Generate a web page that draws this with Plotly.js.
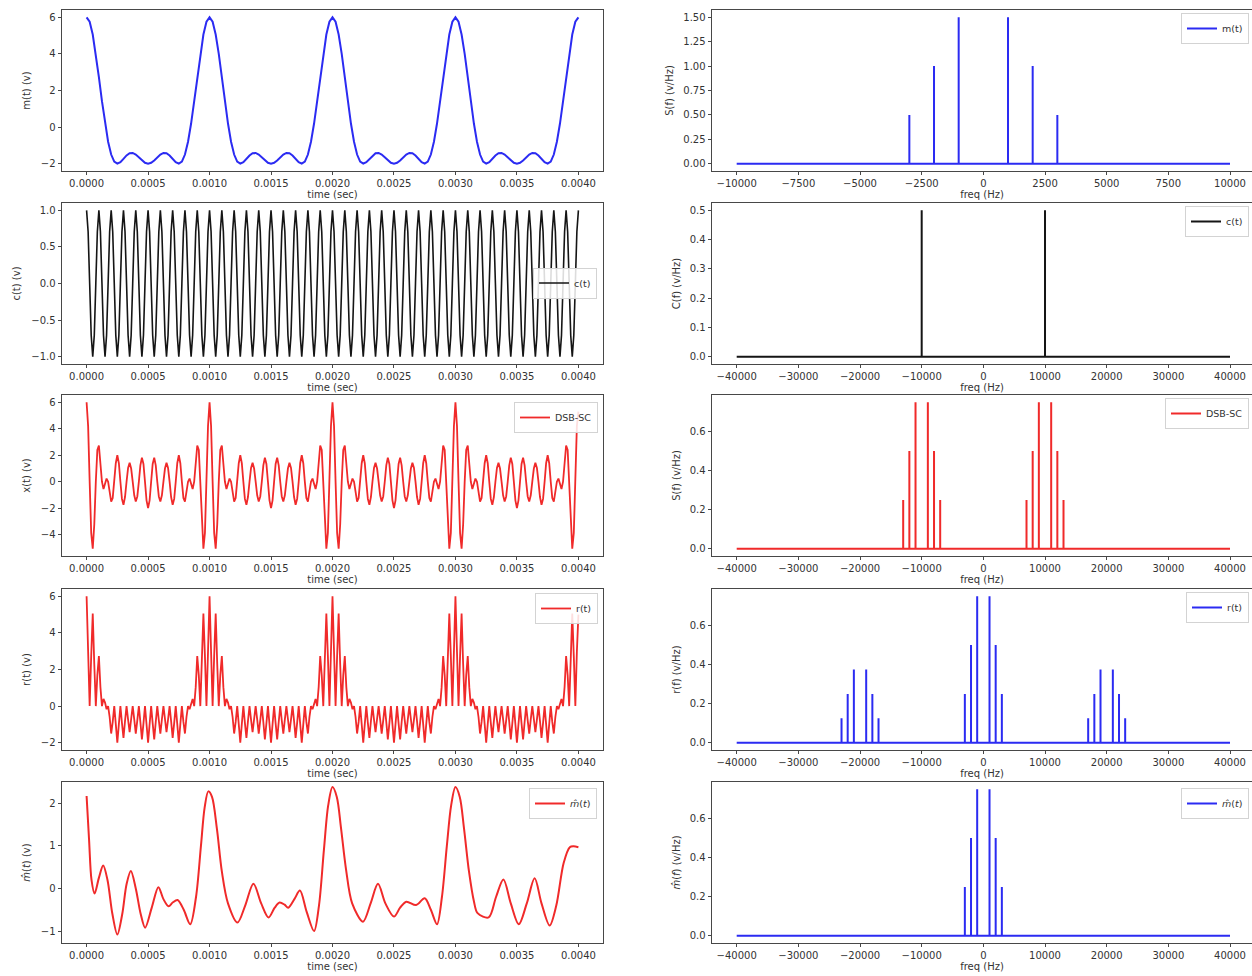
<!DOCTYPE html>
<html><head><meta charset="utf-8">
<script src="https://cdn.plot.ly/plotly-3.0.1.min.js"></script>
<style>html,body{margin:0;padding:0;background:#fff}#chart{width:1252px;height:976px}</style>
</head><body><div id="chart"></div>
<script>
// ---------------- DATA ----------------
// sampling interval of the time-domain records (s)
const mSampleStep = 0.000025;
const fineSampleStep = 0.0000125;

// message m(t), 4 periods
const mSignal = [
6,5.756,5.059,4.005,2.736,1.414,0.194,-0.801,-1.5,-1.887,-2,-1.917,-1.736,-1.55,-1.43,-1.414,-1.5,-1.654,-1.823,-1.952,-2,-1.952,-1.823,-1.654,-1.5,-1.414,-1.43,-1.55,-1.736,-1.917,-2,-1.887,-1.5,-0.801,0.194,1.414,2.736,4.005,5.059,5.756,
6,5.756,5.059,4.005,2.736,1.414,0.194,-0.801,-1.5,-1.887,-2,-1.917,-1.736,-1.55,-1.43,-1.414,-1.5,-1.654,-1.823,-1.952,-2,-1.952,-1.823,-1.654,-1.5,-1.414,-1.43,-1.55,-1.736,-1.917,-2,-1.887,-1.5,-0.801,0.194,1.414,2.736,4.005,5.059,5.756,
6,5.756,5.059,4.005,2.736,1.414,0.194,-0.801,-1.5,-1.887,-2,-1.917,-1.736,-1.55,-1.43,-1.414,-1.5,-1.654,-1.823,-1.952,-2,-1.952,-1.823,-1.654,-1.5,-1.414,-1.43,-1.55,-1.736,-1.917,-2,-1.887,-1.5,-0.801,0.194,1.414,2.736,4.005,5.059,5.756,
6,5.756,5.059,4.005,2.736,1.414,0.194,-0.801,-1.5,-1.887,-2,-1.917,-1.736,-1.55,-1.43,-1.414,-1.5,-1.654,-1.823,-1.952,-2,-1.952,-1.823,-1.654,-1.5,-1.414,-1.43,-1.55,-1.736,-1.917,-2,-1.887,-1.5,-0.801,0.194,1.414,2.736,4.005,5.059,5.756,
6];

// carrier c(t), 40 cycles
const cSignal = [
1,0.707,0,-0.707,-1,-0.707,0,0.707, 1,0.707,0,-0.707,-1,-0.707,0,0.707, 1,0.707,0,-0.707,-1,-0.707,0,0.707, 1,0.707,0,-0.707,-1,-0.707,0,0.707, 1,0.707,0,-0.707,-1,-0.707,0,0.707,
1,0.707,0,-0.707,-1,-0.707,0,0.707, 1,0.707,0,-0.707,-1,-0.707,0,0.707, 1,0.707,0,-0.707,-1,-0.707,0,0.707, 1,0.707,0,-0.707,-1,-0.707,0,0.707, 1,0.707,0,-0.707,-1,-0.707,0,0.707,
1,0.707,0,-0.707,-1,-0.707,0,0.707, 1,0.707,0,-0.707,-1,-0.707,0,0.707, 1,0.707,0,-0.707,-1,-0.707,0,0.707, 1,0.707,0,-0.707,-1,-0.707,0,0.707, 1,0.707,0,-0.707,-1,-0.707,0,0.707,
1,0.707,0,-0.707,-1,-0.707,0,0.707, 1,0.707,0,-0.707,-1,-0.707,0,0.707, 1,0.707,0,-0.707,-1,-0.707,0,0.707, 1,0.707,0,-0.707,-1,-0.707,0,0.707, 1,0.707,0,-0.707,-1,-0.707,0,0.707,
1,0.707,0,-0.707,-1,-0.707,0,0.707, 1,0.707,0,-0.707,-1,-0.707,0,0.707, 1,0.707,0,-0.707,-1,-0.707,0,0.707, 1,0.707,0,-0.707,-1,-0.707,0,0.707, 1,0.707,0,-0.707,-1,-0.707,0,0.707,
1,0.707,0,-0.707,-1,-0.707,0,0.707, 1,0.707,0,-0.707,-1,-0.707,0,0.707, 1,0.707,0,-0.707,-1,-0.707,0,0.707, 1,0.707,0,-0.707,-1,-0.707,0,0.707, 1,0.707,0,-0.707,-1,-0.707,0,0.707,
1,0.707,0,-0.707,-1,-0.707,0,0.707, 1,0.707,0,-0.707,-1,-0.707,0,0.707, 1,0.707,0,-0.707,-1,-0.707,0,0.707, 1,0.707,0,-0.707,-1,-0.707,0,0.707, 1,0.707,0,-0.707,-1,-0.707,0,0.707,
1,0.707,0,-0.707,-1,-0.707,0,0.707, 1,0.707,0,-0.707,-1,-0.707,0,0.707, 1,0.707,0,-0.707,-1,-0.707,0,0.707, 1,0.707,0,-0.707,-1,-0.707,0,0.707, 1,0.707,0,-0.707,-1,-0.707,0,0.707,
1];

// DSB-SC x(t)
const dsbSignal = [
6,4.199,0,-3.861,-5.059,-3.231,0,2.395,2.736,1.465,0,-0.554,-0.194,0.238,0,-0.841,-1.5,-1.224,0,1.396,2,1.398,0,-1.296,-1.736,-1.158,0,1.046,1.43,0.996,0,-1.022,-1.5,-1.112,0,1.23,1.823,1.341,0,-1.406,
-2,-1.406,0,1.341,1.823,1.23,0,-1.112,-1.5,-1.022,0,0.996,1.43,1.046,0,-1.158,-1.736,-1.296,0,1.398,2,1.396,0,-1.224,-1.5,-0.841,0,0.238,-0.194,-0.554,0,1.465,2.736,2.395,0,-3.231,-5.059,-3.861,0,4.199,
6,4.199,0,-3.861,-5.059,-3.231,0,2.395,2.736,1.465,0,-0.554,-0.194,0.238,0,-0.841,-1.5,-1.224,0,1.396,2,1.398,0,-1.296,-1.736,-1.158,0,1.046,1.43,0.996,0,-1.022,-1.5,-1.112,0,1.23,1.823,1.341,0,-1.406,
-2,-1.406,0,1.341,1.823,1.23,0,-1.112,-1.5,-1.022,0,0.996,1.43,1.046,0,-1.158,-1.736,-1.296,0,1.398,2,1.396,0,-1.224,-1.5,-0.841,0,0.238,-0.194,-0.554,0,1.465,2.736,2.395,0,-3.231,-5.059,-3.861,0,4.199,
6,4.199,0,-3.861,-5.059,-3.231,0,2.395,2.736,1.465,0,-0.554,-0.194,0.238,0,-0.841,-1.5,-1.224,0,1.396,2,1.398,0,-1.296,-1.736,-1.158,0,1.046,1.43,0.996,0,-1.022,-1.5,-1.112,0,1.23,1.823,1.341,0,-1.406,
-2,-1.406,0,1.341,1.823,1.23,0,-1.112,-1.5,-1.022,0,0.996,1.43,1.046,0,-1.158,-1.736,-1.296,0,1.398,2,1.396,0,-1.224,-1.5,-0.841,0,0.238,-0.194,-0.554,0,1.465,2.736,2.395,0,-3.231,-5.059,-3.861,0,4.199,
6,4.199,0,-3.861,-5.059,-3.231,0,2.395,2.736,1.465,0,-0.554,-0.194,0.238,0,-0.841,-1.5,-1.224,0,1.396,2,1.398,0,-1.296,-1.736,-1.158,0,1.046,1.43,0.996,0,-1.022,-1.5,-1.112,0,1.23,1.823,1.341,0,-1.406,
-2,-1.406,0,1.341,1.823,1.23,0,-1.112,-1.5,-1.022,0,0.996,1.43,1.046,0,-1.158,-1.736,-1.296,0,1.398,2,1.396,0,-1.224,-1.5,-0.841,0,0.238,-0.194,-0.554,0,1.465,2.736,2.395,0,-3.231,-5.059,-3.861,0,4.199,
5.3];

// received r(t)
const rSignal = [
6,2.97,0,2.73,5.059,2.285,0,1.694,2.736,1.036,0,0.392,0.194,-0.169,0,-0.595,-1.5,-0.866,0,-0.987,-2,-0.989,0,-0.917,-1.736,-0.819,0,-0.74,-1.43,-0.705,0,-0.723,-1.5,-0.786,0,-0.87,-1.823,-0.948,0,-0.994,
-2,-0.994,0,-0.948,-1.823,-0.87,0,-0.786,-1.5,-0.723,0,-0.705,-1.43,-0.74,0,-0.819,-1.736,-0.917,0,-0.989,-2,-0.987,0,-0.866,-1.5,-0.595,0,-0.169,0.194,0.392,0,1.036,2.736,1.694,0,2.285,5.059,2.73,0,2.97,
6,2.97,0,2.73,5.059,2.285,0,1.694,2.736,1.036,0,0.392,0.194,-0.169,0,-0.595,-1.5,-0.866,0,-0.987,-2,-0.989,0,-0.917,-1.736,-0.819,0,-0.74,-1.43,-0.705,0,-0.723,-1.5,-0.786,0,-0.87,-1.823,-0.948,0,-0.994,
-2,-0.994,0,-0.948,-1.823,-0.87,0,-0.786,-1.5,-0.723,0,-0.705,-1.43,-0.74,0,-0.819,-1.736,-0.917,0,-0.989,-2,-0.987,0,-0.866,-1.5,-0.595,0,-0.169,0.194,0.392,0,1.036,2.736,1.694,0,2.285,5.059,2.73,0,2.97,
6,2.97,0,2.73,5.059,2.285,0,1.694,2.736,1.036,0,0.392,0.194,-0.169,0,-0.595,-1.5,-0.866,0,-0.987,-2,-0.989,0,-0.917,-1.736,-0.819,0,-0.74,-1.43,-0.705,0,-0.723,-1.5,-0.786,0,-0.87,-1.823,-0.948,0,-0.994,
-2,-0.994,0,-0.948,-1.823,-0.87,0,-0.786,-1.5,-0.723,0,-0.705,-1.43,-0.74,0,-0.819,-1.736,-0.917,0,-0.989,-2,-0.987,0,-0.866,-1.5,-0.595,0,-0.169,0.194,0.392,0,1.036,2.736,1.694,0,2.285,5.059,2.73,0,2.97,
6,2.97,0,2.73,5.059,2.285,0,1.694,2.736,1.036,0,0.392,0.194,-0.169,0,-0.595,-1.5,-0.866,0,-0.987,-2,-0.989,0,-0.917,-1.736,-0.819,0,-0.74,-1.43,-0.705,0,-0.723,-1.5,-0.786,0,-0.87,-1.823,-0.948,0,-0.994,
-2,-0.994,0,-0.948,-1.823,-0.87,0,-0.786,-1.5,-0.723,0,-0.705,-1.43,-0.74,0,-0.819,-1.736,-0.917,0,-0.989,-2,-0.987,0,-0.866,-1.5,-0.595,0,-0.169,0.194,0.392,0,1.036,2.736,1.694,0,2.285,5.059,2.73,0,2.97,
5];

// recovered m^(t): times (s) and values
const mhatTime = [0,0.00002,0.00004,0.000065,0.0001,0.000135,0.00017,0.00021,0.00025,0.00029,0.000325,0.00036,0.0004,0.00044,0.000476,0.00053,0.000584,0.000625,0.000667,0.0007,0.00074,0.00079,0.000843,0.00089,0.00093,0.00096,0.00099,0.00102,0.00106,0.0011,0.00115,0.001227,0.00129,0.001357,0.00142,0.00148,0.00153,0.00157,0.00161,0.00164,0.00169,0.001735,0.00179,0.00185,0.00189,0.00193,0.001965,0.002,0.002035,0.00207,0.00211,0.00216,0.002248,0.00231,0.00237,0.00243,0.0025,0.00255,0.0026,0.00268,0.00275,0.0028,0.00285,0.00289,0.00293,0.002965,0.003,0.003035,0.00307,0.00311,0.00315,0.00318,0.00327,0.00333,0.00339,0.00345,0.003515,0.00358,0.003644,0.0037,0.003766,0.00382,0.00388,0.00393,0.00396,0.004];
const mhatValue = [2.17,1.15,0.2,-0.12,0.25,0.54,0.2,-0.6,-1.08,-0.6,0.1,0.41,0.0,-0.6,-0.92,-0.45,0.03,-0.25,-0.42,-0.33,-0.27,-0.5,-0.84,-0.2,1.0,1.9,2.28,2.15,1.4,0.4,-0.35,-0.8,-0.4,0.11,-0.35,-0.68,-0.45,-0.33,-0.38,-0.45,-0.25,-0.05,-0.55,-1.0,-0.4,0.9,1.95,2.38,2.15,1.4,0.45,-0.35,-0.78,-0.35,0.11,-0.35,-0.66,-0.45,-0.31,-0.39,-0.23,-0.5,-0.84,-0.2,1.0,1.95,2.38,2.15,1.4,0.4,-0.3,-0.58,-0.68,-0.2,0.21,-0.35,-0.84,-0.35,0.24,-0.35,-0.87,-0.4,0.6,0.97,0.99,0.97];

// spectra: spike frequencies (Hz) and magnitudes (v/Hz), plus plotted frequency span
const mSpecSpan = [-10000, 10000];
const mSpecFreq = [-3000,-2000,-1000,1000,2000,3000];
const mSpecMag  = [0.5,1,1.5,1.5,1,0.5];
const wideSpan = [-40000, 40000];
const cSpecFreq = [-10000,10000];
const cSpecMag  = [0.5,0.5];
const dsbSpecFreq = [-13000,-12000,-11000,-9000,-8000,-7000,7000,8000,9000,11000,12000,13000];
const dsbSpecMag  = [0.25,0.5,0.75,0.75,0.5,0.25,0.25,0.5,0.75,0.75,0.5,0.25];
const rSpecFreq = [-23000,-22000,-21000,-19000,-18000,-17000,-3000,-2000,-1000,1000,2000,3000,17000,18000,19000,21000,22000,23000];
const rSpecMag  = [0.125,0.25,0.375,0.375,0.25,0.125,0.25,0.5,0.75,0.75,0.5,0.25,0.125,0.25,0.375,0.375,0.25,0.125];
const mhatSpecFreq = [-3000,-2000,-1000,1000,2000,3000];
const mhatSpecMag  = [0.25,0.5,0.75,0.75,0.5,0.25];

// labels
const legendNames = ['m(t)','c(t)','DSB-SC','r(t)','<i>m̂</i>(<i>t</i>)'];
const timeYLabels = ['m(t) (v)','c(t) (v)','x(t) (v)','r(t) (v)','<i>m̂</i>(<i>t</i>) (v)'];
const freqYLabels = ['S(f) (v/Hz)','C(f) (v/Hz)','S(f) (v/Hz)','r(f) (v/Hz)','<i>m̂</i>(<i>f</i>) (v/Hz)'];

// ---------------- STYLE / LAYOUT ----------------
const W = 1252, H = 976;
const FONT = 'DejaVu Sans';
const BLUE = '#2b2bf2', RED = '#f02a2a', BLACK = '#151515';
const rowTop = [10, 203, 395, 589, 782], rowH = 161;
const leftX = [62, 603], rightX = [712, 1252];

function spikeLine(span, freqs, mags) {
  const xs = [span[0]], ys = [0];
  freqs.forEach((f, i) => { xs.push(f, f, f); ys.push(0, mags[i], 0); });
  xs.push(span[1]); ys.push(0);
  return {x: xs, y: ys};
}

const traces = [];
function addTrace(idx, tr) { traces.push(Object.assign({type:'scatter', mode:'lines', xaxis:'x'+idx, yaxis:'y'+idx, hoverinfo:'skip'}, tr)); }

addTrace(1, {x0:0, dx:mSampleStep, y:mSignal, line:{color:BLUE,width:2}, name:legendNames[0], legend:'legend'});
addTrace(3, {x0:0, dx:fineSampleStep, y:cSignal, line:{color:BLACK,width:1.6}, name:legendNames[1], legend:'legend3'});
addTrace(5, {x0:0, dx:fineSampleStep, y:dsbSignal, line:{color:RED,width:1.8}, name:legendNames[2], legend:'legend5'});
addTrace(7, {x0:0, dx:fineSampleStep, y:rSignal, line:{color:RED,width:1.8}, name:legendNames[3], legend:'legend7'});
addTrace(9, {x:mhatTime, y:mhatValue, line:{color:RED,width:2,shape:'spline',smoothing:0.9}, name:legendNames[4], legend:'legend9'});

const s1 = spikeLine(mSpecSpan, mSpecFreq, mSpecMag);
const s2 = spikeLine(wideSpan, cSpecFreq, cSpecMag);
const s3 = spikeLine(wideSpan, dsbSpecFreq, dsbSpecMag);
const s4 = spikeLine(wideSpan, rSpecFreq, rSpecMag);
const s5 = spikeLine(wideSpan, mhatSpecFreq, mhatSpecMag);
addTrace(2, {x:s1.x, y:s1.y, line:{color:BLUE,width:2}, name:legendNames[0], legend:'legend2'});
addTrace(4, {x:s2.x, y:s2.y, line:{color:BLACK,width:2}, name:legendNames[1], legend:'legend4'});
addTrace(6, {x:s3.x, y:s3.y, line:{color:RED,width:2}, name:legendNames[2], legend:'legend6'});
addTrace(8, {x:s4.x, y:s4.y, line:{color:BLUE,width:2}, name:legendNames[3], legend:'legend8'});
addTrace(10,{x:s5.x, y:s5.y, line:{color:BLUE,width:2}, name:legendNames[4], legend:'legend10'});

const axBase = {showgrid:false, zeroline:false, showline:true, mirror:true, linecolor:'#333', linewidth:0.9,
  ticks:'outside', ticklen:3.5, tickwidth:0.9, tickcolor:'#333', tickfont:{family:FONT,size:10,color:'#333'},
  fixedrange:true, automargin:false, exponentformat:'none', separatethousands:false};

const layout = {width:W, height:H, margin:{l:0,r:0,t:0,b:0}, paper_bgcolor:'#fff', plot_bgcolor:'#fff',
  font:{family:FONT, size:10, color:'#333'}};

const yRangesLeft = [[-2.4,6.4],[-1.1,1.1],[-5.61,6.55],[-2.4,6.4],[-1.28,2.5]];
const yDtickLeft = [2,0.5,2,2,1];
const yFmtLeft = ['d','.1f','d','d','d'];
const yRangesRight = [[-0.075,1.575],[-0.025,0.525],[-0.0375,0.7875],[-0.0375,0.7875],[-0.0375,0.7875]];
const yDtickRight = [0.25,0.1,0.2,0.2,0.2];
const yFmtRight = ['.2f','.1f','.1f','.1f','.1f'];

for (let r = 0; r < 5; r++) {
  const yd = [1 - (rowTop[r] + rowH) / H, 1 - rowTop[r] / H];
  const li = 2*r + 1, ri = 2*r + 2;
  layout['xaxis'+li] = Object.assign({}, axBase, {domain:[leftX[0]/W, leftX[1]/W], anchor:'y'+li,
    range:[-0.0002, 0.0042], tick0:0, dtick:0.0005, tickformat:'.4f',
    title:{text:'time (sec)', font:{family:FONT,size:10,color:'#333'}, standoff:2}});
  layout['yaxis'+li] = Object.assign({}, axBase, {domain:yd, anchor:'x'+li, range:yRangesLeft[r],
    tick0:0, dtick:yDtickLeft[r], tickformat:yFmtLeft[r],
    title:{text:timeYLabels[r], font:{family:FONT,size:10,color:'#333'}, standoff:8}});
  const xr = r === 0 ? [-11001, 10892] : [-44006, 43568];
  layout['xaxis'+ri] = Object.assign({}, axBase, {domain:[rightX[0]/W, rightX[1]/W], anchor:'y'+ri,
    range:xr, tick0:0, dtick: r === 0 ? 2500 : 10000, tickformat:'d',
    title:{text:'freq (Hz)', font:{family:FONT,size:10,color:'#333'}, standoff:2}});
  layout['yaxis'+ri] = Object.assign({}, axBase, {domain:yd, anchor:'x'+ri, range:yRangesRight[r],
    tick0:0, dtick:yDtickRight[r], tickformat:yFmtRight[r],
    title:{text:freqYLabels[r], font:{family:FONT,size:10,color:'#333'}, standoff:7}});
}
// first subplot uses xaxis / yaxis
layout.xaxis = layout.xaxis1; delete layout.xaxis1;
layout.yaxis = layout.yaxis1; delete layout.yaxis1;
layout.xaxis.anchor = 'y'; layout.yaxis.anchor = 'x';
traces.forEach(t => { if (t.xaxis === 'x1') { t.xaxis = 'x'; t.yaxis = 'y'; } });

function leg(xpx, ypx, yanchor) {
  return {x: xpx / W, y: 1 - ypx / H, xanchor:'right', yanchor: yanchor, bgcolor:'rgba(255,255,255,0.85)',
    bordercolor:'#d3d3d3', borderwidth:1, font:{family:FONT,size:9.5,color:'#333'}, itemwidth:30};
}
layout.legend   = leg(596, 91, 'middle');
layout.legend2  = leg(1249, 13, 'top');
layout.legend3  = leg(597, 283, 'middle');
layout.legend4  = leg(1249, 206, 'top');
layout.legend5  = leg(598, 402, 'top');
layout.legend6  = leg(1249, 398, 'top');
layout.legend7  = leg(598, 593, 'top');
layout.legend8  = leg(1249, 592, 'top');
layout.legend9  = leg(597, 788, 'top');
layout.legend10 = leg(1249, 788, 'top');

Plotly.newPlot('chart', traces, layout, {displayModeBar:false, staticPlot:true});
</script>
</body></html>
